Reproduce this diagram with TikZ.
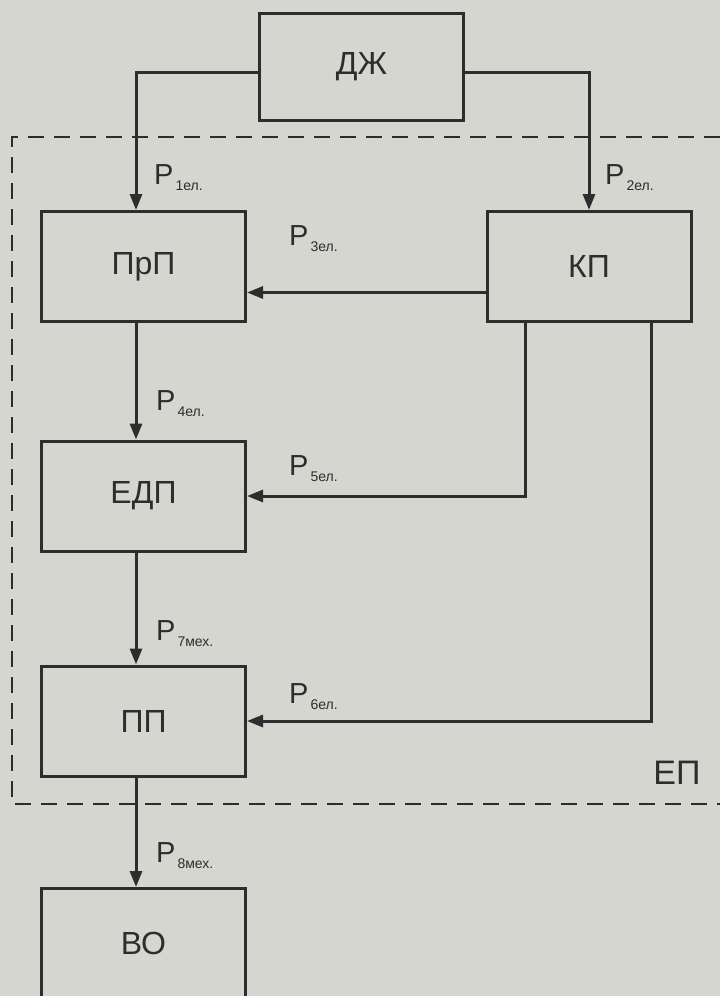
\documentclass[tikz,border=0pt]{standalone}
\usepackage{fontspec}
\setmainfont{Liberation Sans}
\usetikzlibrary{arrows.meta}
\definecolor{paper}{RGB}{214,214,209}
\definecolor{ink}{RGB}{45,45,45}
\newcommand\psub[1]{\kern2pt\lower6pt\hbox{\fontsize{14}{16}\selectfont #1}}
\begin{document}
\begin{tikzpicture}[x=1pt,y=-1pt,
  blk/.style={draw=ink, line width=3pt, minimum width=204pt, minimum height=110pt, inner sep=0pt, font=\fontsize{32}{36}\selectfont, text=ink},
  arr/.style={draw=ink, line width=3pt, -{Triangle[length=16pt,width=12pt]}},
  lab/.style={inner sep=0pt, anchor=base west, text=ink, font=\fontsize{29}{32}\selectfont},
  bnd/.style={draw=ink, line width=2pt, dash pattern=on 16pt off 10pt}]
\fill[paper] (0,0) rectangle (720,996);
\useasboundingbox (0,0) rectangle (720,996);
% boundary of the electric drive
\draw[bnd] (720,137) -- (12,137) -- (12,804) -- (720,804);
% blocks
\node[blk, minimum height=107pt] (dj) at (361.5,67) {ДЖ};
\node[blk] (prp) at (143.5,266.5) {ПрП};
\node[blk] (kp) at (589,266.5) {КП};
\node[blk] (edp) at (143.5,496) {ЕДП};
\node[blk] (pp) at (143.5,721) {ПП};
\node[blk] (vo) at (143.5,943.5) {ВО};
\node[inner sep=0pt, text=ink, font=\fontsize{34}{38}\selectfont] (ep) at (677,773) {ЕП};
% columns
\coordinate (cx) at (136,0);
\coordinate (cr) at (525,0);
\coordinate (ce) at (651,0);
% connectors
\draw[arr] ([yshift=-5pt]dj.west) -| (prp.north -| cx);
\draw[arr] ([yshift=-5pt]dj.east) -| (kp.north);
\draw[arr] ([yshift=-26pt]kp.west) -- ([yshift=-26pt]prp.east);
\draw[arr] (prp.south -| cx) -- (edp.north -| cx);
\draw[arr] (kp.south -| cr) |- (edp.east);
\draw[arr] (kp.south -| ce) |- (pp.east);
\draw[arr] (edp.south -| cx) -- (pp.north -| cx);
\draw[arr] (pp.south -| cx) -- (vo.north -| cx);
% labels
\node[lab] (p1) at (154,184) {P\psub{1ел.}};
\node[lab] (p2) at (605,184) {P\psub{2ел.}};
\node[lab] (p3) at (289,245) {P\psub{3ел.}};
\node[lab] (p4) at (156,410) {P\psub{4ел.}};
\node[lab] (p5) at (289,475) {P\psub{5ел.}};
\node[lab] (p7) at (156,640) {P\psub{7мех.}};
\node[lab] (p6) at (289,703) {P\psub{6ел.}};
\node[lab] (p8) at (156,862) {P\psub{8мех.}};
\end{tikzpicture}
\end{document}
